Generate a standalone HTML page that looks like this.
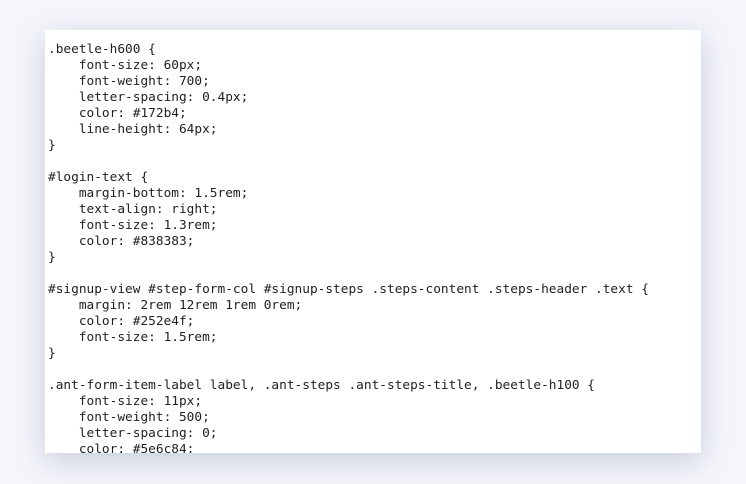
<!DOCTYPE html>
<html><head><style>
html,body{margin:0;padding:0;}
body{width:746px;height:484px;background:#f4f6fb;position:relative;overflow:hidden;}
.card{position:absolute;left:45px;top:30px;width:656px;height:423px;background:#fff;overflow:hidden;
box-shadow:0 8px 28px rgba(120,130,160,0.35);}
pre{margin:0;padding:12px 0 0 3px;font-family:"DejaVu Sans Mono","Liberation Mono",monospace;font-size:12.8px;line-height:16px;color:#222;}
</style></head><body>
<div class="card"><pre>.beetle-h600 {
    font-size: 60px;
    font-weight: 700;
    letter-spacing: 0.4px;
    color: #172b4;
    line-height: 64px;
}

#login-text {
    margin-bottom: 1.5rem;
    text-align: right;
    font-size: 1.3rem;
    color: #838383;
}

#signup-view #step-form-col #signup-steps .steps-content .steps-header .text {
    margin: 2rem 12rem 1rem 0rem;
    color: #252e4f;
    font-size: 1.5rem;
}

.ant-form-item-label label, .ant-steps .ant-steps-title, .beetle-h100 {
    font-size: 11px;
    font-weight: 500;
    letter-spacing: 0;
    color: #5e6c84;
}</pre></div>
</body></html>
